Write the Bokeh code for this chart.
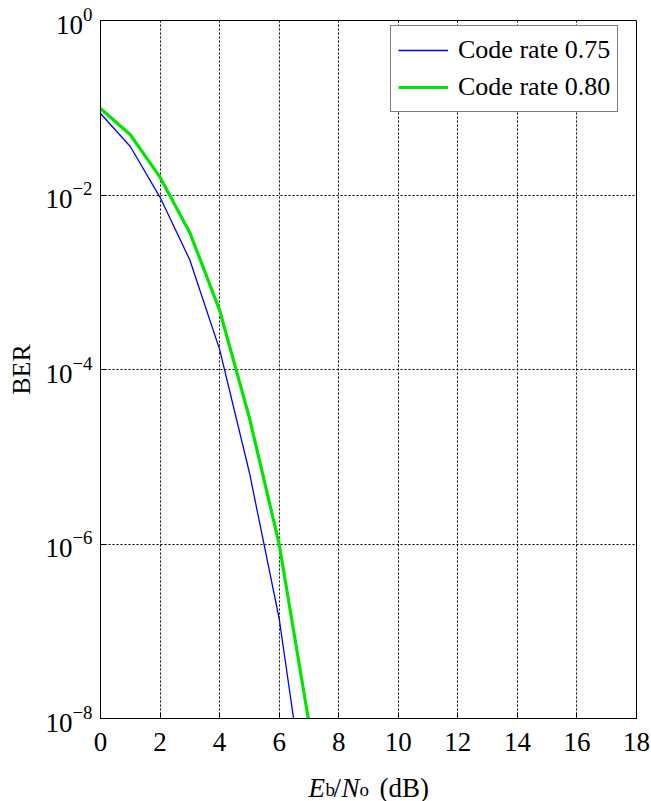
from bokeh.plotting import figure
from bokeh.models import FixedTicker, Legend, LegendItem, LogTickFormatter
from bokeh.layouts import column
from bokeh.core.properties import value
from bokeh.embed import file_html
from bokeh.resources import INLINE

# Data
ebno = [0, 1, 2, 3, 4, 5, 6, 7]
ber_075 = [0.086, 0.036, 0.0094, 1.8e-3, 1.7e-4, 6.6e-6, 1.4e-7, 6e-10]
ber_080 = [0.098, 0.049, 0.016, 3.7e-3, 4.8e-4, 2.8e-5, 1.0e-6, 9e-9]
series_names = ["Code rate 0.75", "Code rate 0.80"]
x_ticks = [0, 2, 4, 6, 8, 10, 12, 14, 16, 18]
y_ticks = [1e-8, 1e-6, 1e-4, 1e-2, 1e0]

FONT = "Liberation Serif"

p = figure(width=651, height=770, y_axis_type="log",
           x_range=(0, 18), y_range=(1e-8, 1e0),
           output_backend="svg", toolbar_location=None,
           min_border_left=100, min_border_right=15,
           min_border_top=20, min_border_bottom=52)
p.background_fill_color = "white"
p.border_fill_color = "white"
p.outline_line_color = "black"
p.outline_line_width = 1

l1 = p.line(ebno, ber_075, line_color="#0000FF", line_width=1.3)
l2 = p.line(ebno, ber_080, line_color="#00E600", line_width=3.2)

# axes
p.xaxis.ticker = FixedTicker(ticks=x_ticks)
p.yaxis.ticker = FixedTicker(ticks=y_ticks, minor_ticks=[])
p.yaxis.formatter = LogTickFormatter()
for ax in (p.xaxis[0], p.yaxis[0]):
    ax.major_label_text_font = FONT
    ax.major_label_text_font_size = "27px"
    ax.major_label_text_color = "black"
    ax.axis_line_color = "black"
    ax.major_tick_line_color = "black"
    ax.major_tick_in = 6
    ax.major_tick_out = 0
    ax.minor_tick_line_color = None
p.xaxis.major_label_standoff = 14
p.yaxis.major_label_standoff = 8

p.yaxis.axis_label = "BER"
p.yaxis.axis_label_text_font = FONT
p.yaxis.axis_label_text_font_size = "26px"
p.yaxis.axis_label_text_font_style = "normal"
p.yaxis.axis_label_text_color = "black"
p.yaxis.axis_label_standoff = 6

# grid
for g in (p.xgrid[0], p.ygrid[0]):
    g.grid_line_color = "black"
    g.grid_line_dash = "2 2"
    g.grid_line_width = 1
    g.grid_line_alpha = 1.0

legend = Legend(items=[LegendItem(label=series_names[0], renderers=[l1]),
                       LegendItem(label=series_names[1], renderers=[l2])],
                location=(290, 606))
legend.label_text_font = FONT
legend.label_text_font_size = "26px"
legend.label_text_color = "black"
legend.border_line_color = "black"
legend.border_line_width = 1
legend.background_fill_alpha = 1.0
legend.padding = 7
legend.spacing = 3
legend.glyph_width = 50
legend.glyph_height = 34
legend.label_height = 34
legend.label_standoff = 10
legend.margin = 0
p.add_layout(legend)

# x-axis title strip: E_b/N_o (dB); its frame aligns with the main frame (100..636 px)
t = figure(width=651, height=31, x_range=(100, 636), y_range=(0, 31),
           output_backend="svg", toolbar_location=None,
           x_axis_location=None, y_axis_location=None,
           min_border_left=100, min_border_right=15,
           min_border_top=0, min_border_bottom=0)
t.outline_line_color = None
t.grid.visible = False
t.background_fill_color = "white"
t.border_fill_color = "white"

t.text(x=[308, 341], y=[14, 14], text=["E", "N"], text_font=value(FONT),
       text_font_size="27px", text_font_style="italic", text_color="black",
       text_baseline="alphabetic", text_align="left")
t.text(x=[333, 379], y=[14, 14], text=["/", "(dB)"], text_font=value(FONT),
       text_font_size="27px", text_color="black",
       text_baseline="alphabetic", text_align="left")
t.text(x=[325, 359], y=[12, 12], text=["b", "o"], text_font=value(FONT),
       text_font_size="19px", text_color="black",
       text_baseline="alphabetic", text_align="left")

open("out.html", "w").write(file_html(column(p, t), INLINE))
